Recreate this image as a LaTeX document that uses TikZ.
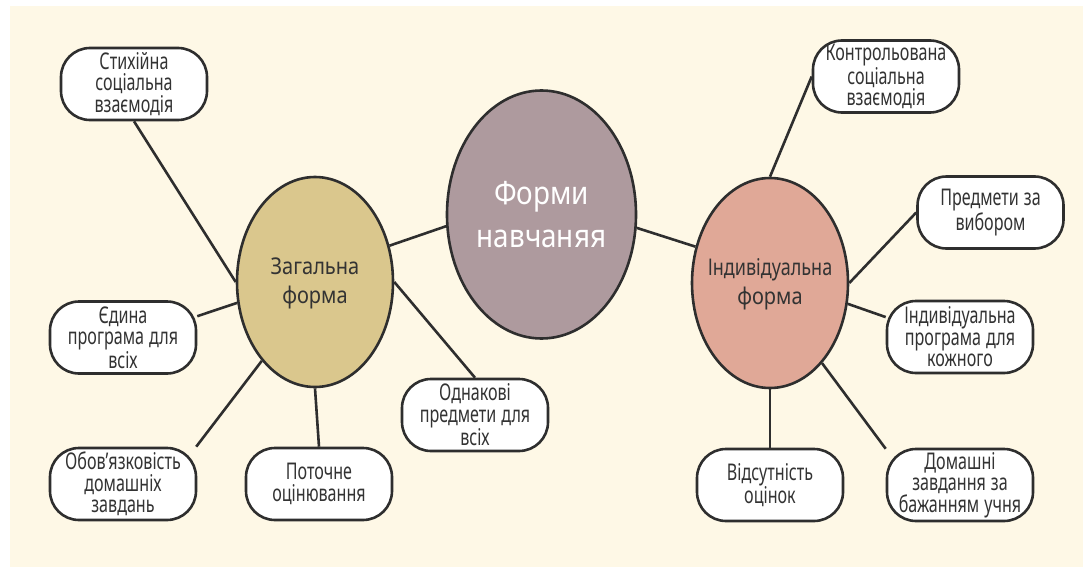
\documentclass[tikz,border=0pt]{standalone}
\usepackage{fontspec}
\setmainfont{Noto Sans}
\newfontfamily\boxfont[FakeStretch=0.70]{Noto Sans}
\newfontfamily\hubfont[FakeStretch=0.87]{Noto Sans}
\newcommand\wsp{\hspace{5pt}}
\usetikzlibrary{shapes.geometric}
\definecolor{creamc}{HTML}{FEF8E6}
\definecolor{zagc}{HTML}{DAC78D}
\definecolor{mainc}{HTML}{AE9A9E}
\definecolor{indc}{HTML}{E0A897}
\definecolor{linec}{HTML}{2E2E2E}
\definecolor{textc}{HTML}{333333}
\pgfdeclarelayer{bgl}
\pgfdeclarelayer{lnl}
\pgfsetlayers{bgl,lnl,main}
\begin{document}
\begin{tikzpicture}[x=1pt,y=-1pt,
  leaf/.style={draw=linec, line width=2.6pt, fill=white, rounded corners=29pt,
    minimum width=146pt, minimum height=72pt, text width=142pt, align=center,
    inner sep=0pt, text=textc, font=\boxfont\fontsize{23}{21.5}\selectfont},
  hub/.style={ellipse, draw=linec, line width=2.6pt, inner sep=0pt},
  hubtext/.style={align=center, text=textc, inner sep=0pt,
    font=\hubfont\fontsize{23}{29}\selectfont},
  link/.style={draw=linec, line width=2.6pt}]
\useasboundingbox (0,0) rectangle (1083,567);
\begin{pgfonlayer}{bgl}
\fill[creamc] (10,6) rectangle (1083,567);
\end{pgfonlayer}
% hubs
\node[hub, fill=mainc, minimum width=189pt, minimum height=248pt,
  label={[hubtext, text=white, font=\hubfont\fontsize{32}{43}\selectfont]center:Форми\\навчаняя}]
  (core) at (541.5,214.5) {};
\node[hub, fill=zagc, minimum width=156pt, minimum height=210pt,
  label={[hubtext, yshift=-1pt]center:Загальна\\форма}] (zag) at (315,282) {};
\node[hub, fill=indc, minimum width=156pt, minimum height=210pt,
  label={[hubtext, yshift=-1pt]center:\scalebox{0.9}[1]{Індивідуальна}\\форма}] (ind) at (770,283) {};
% left leaves
\node[leaf] (b1) at (134,84) {Стихійна\\соціальна\\взаємодія};
\node[leaf] (b2) at (123,337.5) {Єдина\\програма\wsp для\\всіх};
\node[leaf] (b3) at (123,484) {Обов’язковість\\домашніх\\завдань};
\node[leaf] (b4) at (319,484) {Поточне\\оцінювання};
\node[leaf] (b5) at (475,415) {Однакові\\предмети\wsp для\\всіх};
% right leaves
\node[leaf] (c1) at (886,76.5) {Контрольована\\соціальна\\взаємодія};
\node[leaf] (c2) at (990.5,212.5) {Предмети\wsp за\\вибором};
\node[leaf] (c3) at (960,337) {Індивідуальна\\програма\wsp для\\кожного};
\node[leaf] (c4) at (770,485) {Відсутність\\оцінок};
\node[leaf] (c5) at (960,485) {Домашні\\завдання\wsp за\\бажанням\wsp учня};
% connectors
\begin{pgfonlayer}{lnl}
\draw[link] (zag.26) -- (core.187);
\draw[link] (core.352) -- (ind.154);
\draw[link] (zag.west) -- (b1.south);
\draw[link] (zag.195) -- (b2.16);
\draw[link] (zag.236) -- (b3.27);
\draw[link] (zag.south) -- (b4.north);
\draw[link] (zag.east) -- (b5.north);
\draw[link] (ind.north) -- (c1.west);
\draw[link] (ind.east) -- (c2.west);
\draw[link] (ind.345) -- (c3.165);
\draw[link] (ind.south) -- (c4.north);
\draw[link] (ind.303) -- (c5.154);
\end{pgfonlayer}
\end{tikzpicture}
\end{document}
